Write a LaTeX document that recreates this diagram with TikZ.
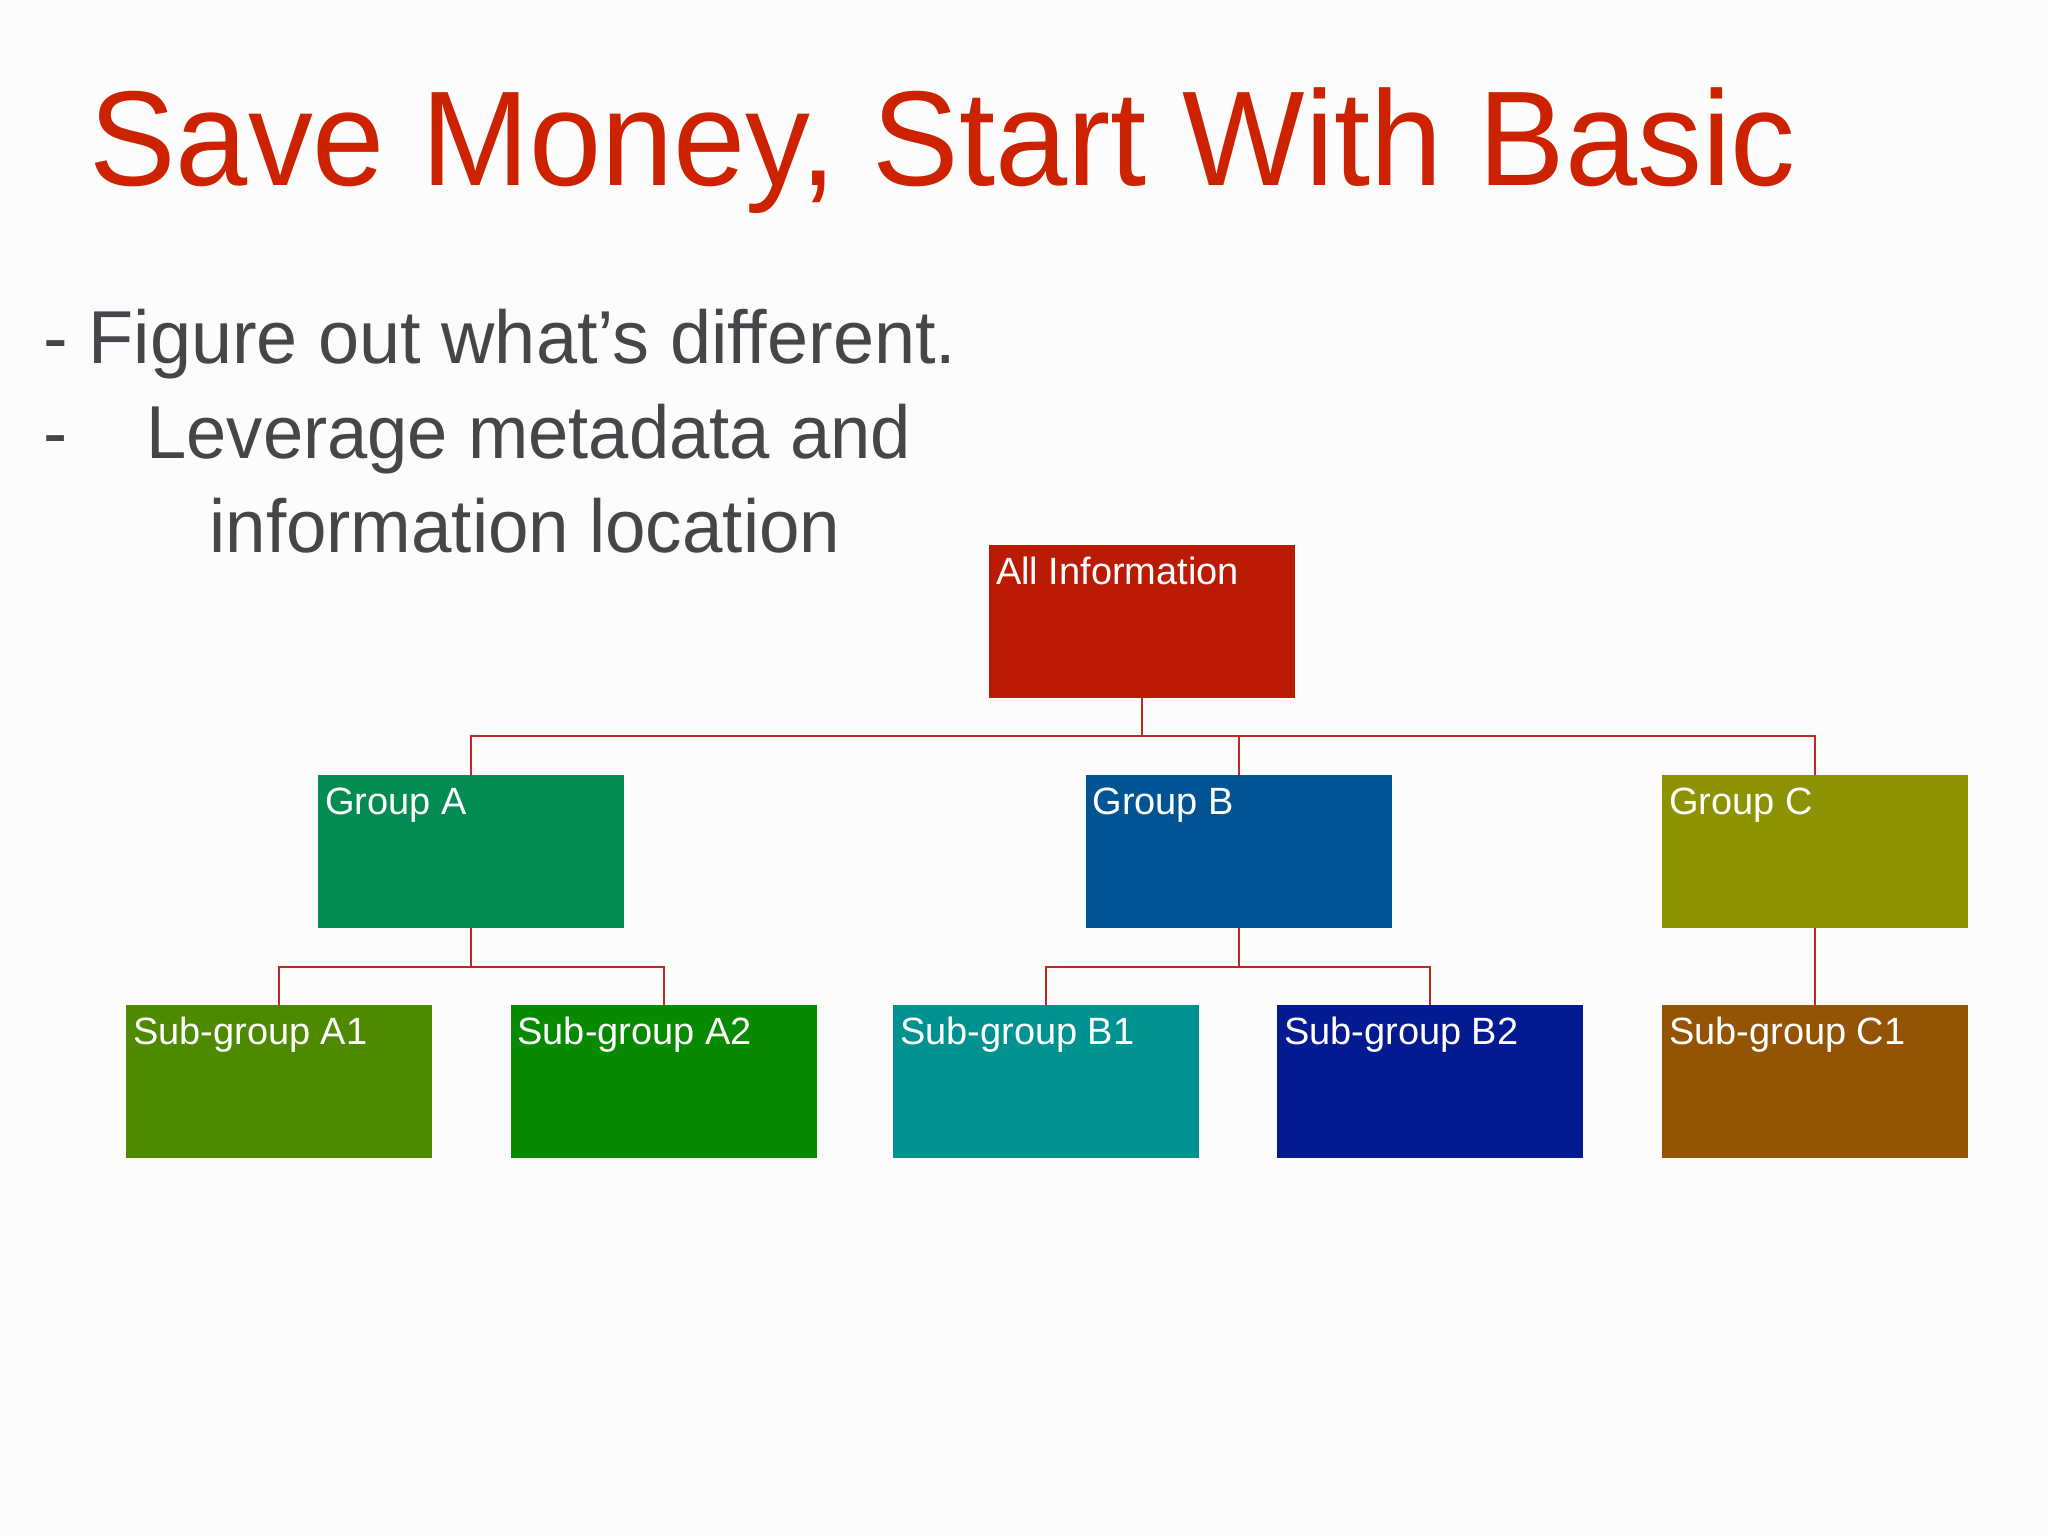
\documentclass[tikz,border=0pt]{standalone}
\usepackage{fontspec}
\setmainfont{Liberation Sans}
\definecolor{titlered}{RGB}{204,34,0}
\definecolor{bodygray}{RGB}{70,70,74}
\definecolor{connred}{RGB}{192,40,40}
\definecolor{cAll}{RGB}{187,26,4}
\definecolor{cGA}{RGB}{3,140,82}
\definecolor{cGB}{RGB}{0,84,148}
\definecolor{cGC}{RGB}{140,146,0}
\definecolor{cA1}{RGB}{78,138,0}
\definecolor{cA2}{RGB}{7,138,0}
\definecolor{cB1}{RGB}{0,145,145}
\definecolor{cB2}{RGB}{4,26,144}
\definecolor{cC1}{RGB}{149,84,5}
\begin{document}
\begin{tikzpicture}[x=0.5pt,y=-0.5pt,
  orgbox/.style={draw=none, rectangle, minimum width=153pt, minimum height=76.5pt, inner sep=0pt},
  boxtext/.style={anchor=base west, inner sep=0pt, text=white, font=\fontsize{19pt}{19pt}\selectfont},
  bodytext/.style={anchor=base west, inner sep=0pt, text=bodygray, font=\fontsize{37.5pt}{37.5pt}\selectfont},
  conn/.style={draw=connred, line width=1pt}]
\useasboundingbox (0,0) rectangle (2048,1536);
\fill[white!99!black] (0,0) rectangle (2048,1536);

% title
\node[anchor=base west, inner sep=0pt, text=titlered, font=\fontsize{67.5pt}{67.5pt}\selectfont] (title) at (89,185) {\scalebox{0.961}[1]{Save Money, Start With Basic}};

% bullets
\node[bodytext] (l1) at (43,363) {\scalebox{0.985}[1]{- Figure out what’s different.}};
\node[bodytext] (d2) at (43,458) {\scalebox{0.965}[1]{-}};
\node[bodytext] (l2) at (146,458) {\scalebox{0.965}[1]{Leverage metadata and}};
\node[bodytext] (l3) at (209,552) {\scalebox{0.97}[1]{information location}};

% boxes
\node[orgbox, fill=cAll] (all) at (1142,621.5) {};
\node[orgbox, fill=cGA] (ga) at (471,851.5) {};
\node[orgbox, fill=cGB] (gb) at (1238.5,851.5) {};
\node[orgbox, fill=cGC] (gc) at (1815,851.5) {};
\node[orgbox, fill=cA1] (a1) at (279,1081.5) {};
\node[orgbox, fill=cA2] (a2) at (663.5,1081.5) {};
\node[orgbox, fill=cB1] (b1) at (1046,1081.5) {};
\node[orgbox, fill=cB2] (b2) at (1430,1081.5) {};
\node[orgbox, fill=cC1] (c1) at (1815,1081.5) {};

% box labels
\node[boxtext] (allt) at ([xshift=3.5pt,yshift=-20pt]all.north west) {All Information};
\node[boxtext] (gat) at ([xshift=3.5pt,yshift=-20pt]ga.north west) {Group A};
\node[boxtext] (gbt) at ([xshift=3.5pt,yshift=-20pt]gb.north west) {Group B};
\node[boxtext] (gct) at ([xshift=3.5pt,yshift=-20pt]gc.north west) {Group C};
\node[boxtext] (a1t) at ([xshift=3.5pt,yshift=-20pt]a1.north west) {Sub-group A1};
\node[boxtext] (a2t) at ([xshift=3.5pt,yshift=-20pt]a2.north west) {Sub-group A2};
\node[boxtext] (b1t) at ([xshift=3.5pt,yshift=-20pt]b1.north west) {Sub-group B1};
\node[boxtext] (b2t) at ([xshift=3.5pt,yshift=-20pt]b2.north west) {Sub-group B2};
\node[boxtext] (c1t) at ([xshift=3.5pt,yshift=-20pt]c1.north west) {Sub-group C1};

% connectors
\coordinate (bus1) at (0,736);
\coordinate (bus2) at (0,966.5);
\draw[conn] (all.south) -- (all.south |- bus1) -| (ga.north);
\draw[conn] (all.south |- bus1) -| (gb.north);
\draw[conn] (all.south |- bus1) -| (gc.north);
\draw[conn] (ga.south) -- (ga.south |- bus2) -| (a1.north);
\draw[conn] (ga.south |- bus2) -| (a2.north);
\draw[conn] (gb.south) -- (gb.south |- bus2) -| (b1.north);
\draw[conn] (gb.south |- bus2) -| (b2.north);
\draw[conn] (gc.south) -- (c1.north);
\end{tikzpicture}
\end{document}
